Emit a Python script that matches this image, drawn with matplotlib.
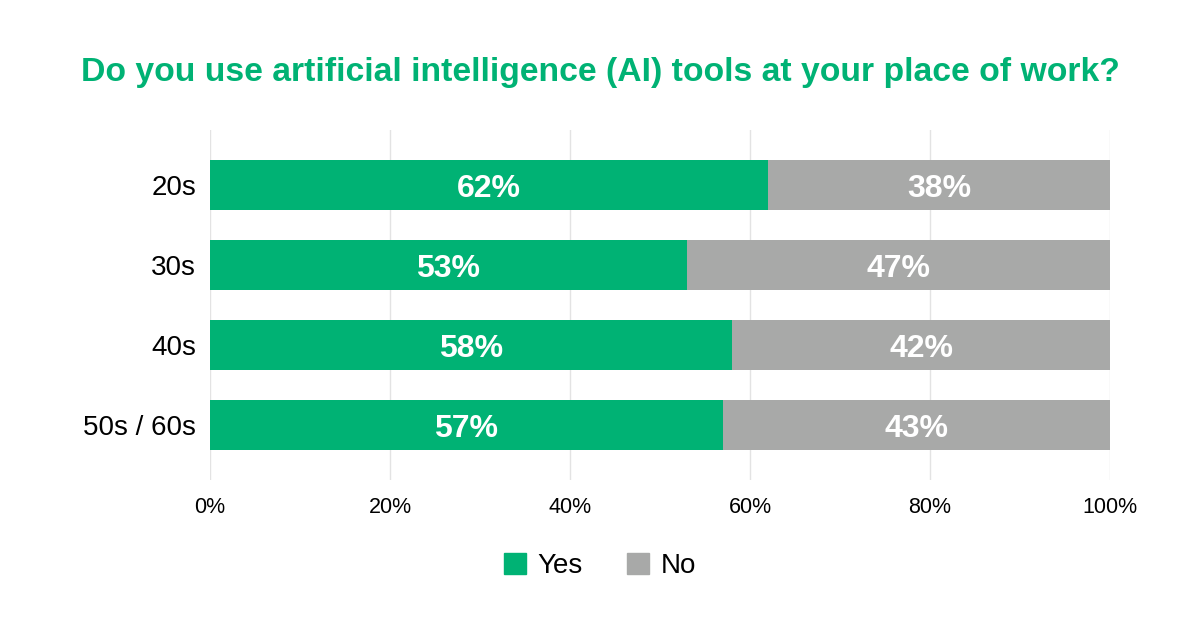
import matplotlib.pyplot as plt
from matplotlib.patches import Patch

# Dades
categories = ['20s', '30s', '40s', '50s / 60s']
yes_vals = [62, 53, 58, 57]
no_vals = [38, 47, 42, 43]
xticks = [0, 20, 40, 60, 80, 100]

green = '#00B274'
grey = '#A8A9A8'

plt.rcParams['font.family'] = ['Liberation Sans', 'DejaVu Sans']

fig = plt.figure(figsize=(12, 6.27), dpi=100)
ax = fig.add_axes([0.175, 0.2344, 0.75, 0.558])

y = range(len(categories))
ax.barh(y, yes_vals, height=0.625, color=green, zorder=3)
ax.barh(y, no_vals, left=yes_vals, height=0.625, color=grey, zorder=3)

# Etiquetes dins les barres
for i, (a, b) in enumerate(zip(yes_vals, no_vals)):
    ax.text(a / 2, i, f'{a}%', ha='center', va='center_baseline', color='white',
            fontsize=23, fontweight='bold', zorder=4)
    ax.text(a + b / 2, i, f'{b}%', ha='center', va='center_baseline', color='white',
            fontsize=23, fontweight='bold', zorder=4)

ax.set_xlim(0, 100)
ax.set_ylim(3.6875, -0.6875)
ax.set_yticks(list(y))
ax.set_yticklabels(categories, fontsize=20)
ax.set_xticks(xticks)
ax.set_xticklabels([f'{t}%' for t in xticks], fontsize=15.5)
ax.tick_params(length=0)
ax.tick_params(axis='x', pad=12)
ax.tick_params(axis='y', pad=10)
ax.xaxis.grid(True, color='#E3E3E3', linewidth=1, zorder=0)
for s in ax.spines.values():
    s.set_visible(False)

fig.text(0.5, 1 - 72 / 627, 'Do you use artificial intelligence (AI) tools at your place of work?',
         ha='center', va='center', color=green, fontsize=24.3, fontweight='bold')

handles = [Patch(color=green, label='Yes'), Patch(color=grey, label='No')]
fig.legend(handles=handles, loc='center', bbox_to_anchor=(0.5, 1 - 566 / 627), ncol=2,
           frameon=False, fontsize=20, handlelength=0.78, handleheight=0.78,
           columnspacing=1.6, handletextpad=0.42)

plt.savefig('out.png', dpi=100)
